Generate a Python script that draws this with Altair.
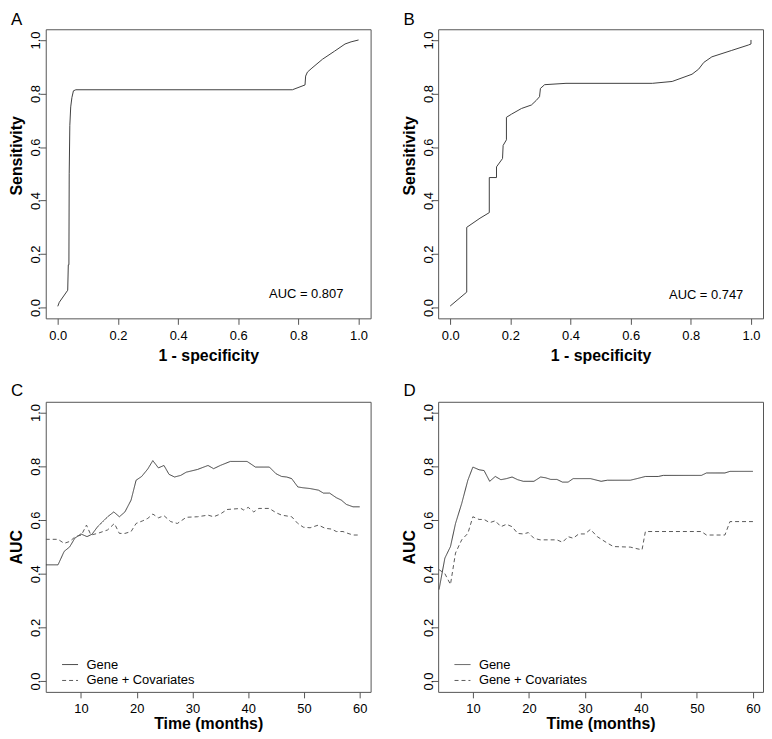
import altair as alt
import pandas as pd

FONT = "Liberation Sans"

# ---------------- data ----------------
roc_a_fpr = [0, 0.005, 0.033, 0.035, 0.037, 0.038, 0.040, 0.043, 0.047, 0.052, 0.060,
             0.780, 0.822, 0.824, 0.830, 0.845, 0.880, 0.920, 0.955, 0.975, 1.0]
roc_a_tpr = [0.005, 0.02, 0.065, 0.16, 0.16, 0.50, 0.68, 0.75, 0.785, 0.81, 0.814,
             0.814, 0.832, 0.865, 0.880, 0.895, 0.928, 0.958, 0.985, 0.993, 1.0]

roc_b_fpr = [0, 0.055, 0.055, 0.099, 0.130, 0.130, 0.154, 0.154, 0.174, 0.176,
             0.187, 0.187, 0.204, 0.237, 0.270, 0.286, 0.297, 0.300, 0.314, 0.385,
             0.672, 0.738, 0.804, 0.826, 0.843, 0.870, 0.936, 0.991, 1.0, 1.0]
roc_b_tpr = [0.006, 0.058, 0.300, 0.334, 0.355, 0.486, 0.486, 0.526, 0.557, 0.606,
             0.627, 0.711, 0.723, 0.744, 0.757, 0.774, 0.788, 0.819, 0.833, 0.838,
             0.838, 0.845, 0.872, 0.891, 0.916, 0.937, 0.961, 0.981, 0.985, 1.0]

c_gene_month = [3.7, 5.9, 7.0, 8.0, 8.9, 10.0, 11.1, 12.0, 13.0, 14.8, 15.9, 16.9, 17.9,
                19.0, 19.9, 20.9, 22.0, 22.9, 23.9, 24.9, 25.8, 26.8, 27.9, 28.9, 30.9,
                32.8, 33.8, 35.0, 36.8, 39.8, 41.3, 43.8, 45.0, 46.0, 46.9, 47.8, 48.9,
                49.8, 51.1, 52.6, 53.5, 54.6, 55.8, 56.7, 57.6, 58.8, 60.0]
c_gene_auc = [0.433, 0.433, 0.483, 0.500, 0.532, 0.548, 0.538, 0.547, 0.575, 0.612, 0.630,
              0.612, 0.630, 0.674, 0.748, 0.762, 0.790, 0.821, 0.794, 0.803, 0.770, 0.760,
              0.766, 0.778, 0.788, 0.803, 0.791, 0.803, 0.818, 0.818, 0.797, 0.797, 0.772,
              0.762, 0.760, 0.754, 0.723, 0.720, 0.717, 0.711, 0.700, 0.700, 0.683, 0.674,
              0.658, 0.649, 0.649]
c_cov_month = [3.7, 5.9, 7.0, 8.0, 9.0, 10.1, 11.0, 11.8, 13.0, 14.8, 16.0, 16.9, 17.9,
               19.0, 19.9, 21.1, 22.0, 22.9, 23.9, 24.9, 26.1, 27.3, 28.9, 30.9, 32.8,
               33.8, 35.0, 36.2, 38.7, 39.2, 40.0, 41.0, 41.9, 43.8, 45.0, 46.0, 47.8,
               48.9, 49.9, 51.1, 52.6, 53.8, 55.0, 55.8, 57.0, 57.9, 58.8, 60.0]
c_cov_auc = [0.528, 0.528, 0.513, 0.520, 0.538, 0.544, 0.581, 0.544, 0.550, 0.563, 0.587,
             0.550, 0.550, 0.557, 0.587, 0.597, 0.606, 0.622, 0.608, 0.616, 0.594, 0.587,
             0.610, 0.612, 0.618, 0.612, 0.622, 0.639, 0.643, 0.637, 0.647, 0.630, 0.643,
             0.643, 0.627, 0.618, 0.612, 0.587, 0.573, 0.571, 0.581, 0.569, 0.566, 0.557,
             0.557, 0.550, 0.544, 0.544]

d_gene_month = [3.96, 5, 6, 6.9, 8, 9.1, 10, 11.1, 12, 13, 14, 15, 16, 17, 18, 19, 20.9,
                22.1, 23, 23.9, 25, 26, 27, 27.9, 31, 32.9, 34, 38.1, 39.3, 40.8, 43.1,
                44, 50.8, 51.7, 55, 55.9, 60]
d_gene_auc = [0.341, 0.458, 0.501, 0.587, 0.661, 0.748, 0.797, 0.787, 0.784, 0.744, 0.762,
              0.750, 0.754, 0.760, 0.750, 0.744, 0.744, 0.760, 0.757, 0.751, 0.751, 0.741,
              0.741, 0.754, 0.754, 0.744, 0.748, 0.748, 0.754, 0.762, 0.762, 0.766, 0.766,
              0.775, 0.775, 0.781, 0.781]
d_cov_month = [3.96, 5, 6, 6.9, 8, 9.1, 10, 11.1, 12, 13, 14, 15, 16, 17, 18, 19, 19.9,
               20.9, 22, 25, 26, 27, 27.9, 28.9, 30, 31, 32.2, 34, 35.1, 38.1, 39.3, 40.2,
               40.8, 50.8, 51.7, 55, 55.9, 60]
d_cov_auc = [0.415, 0.400, 0.360, 0.477, 0.526, 0.550, 0.612, 0.602, 0.602, 0.590, 0.597,
             0.575, 0.584, 0.575, 0.550, 0.548, 0.553, 0.532, 0.526, 0.526, 0.517, 0.538,
             0.532, 0.548, 0.548, 0.565, 0.538, 0.514, 0.501, 0.499, 0.493, 0.489, 0.557,
             0.557, 0.544, 0.544, 0.594, 0.594]

series_names = ["Gene", "Gene + Covariates"]
unit_ticks = [0, 0.2, 0.4, 0.6, 0.8, 1.0]
time_ticks = [10, 20, 30, 40, 50, 60]
auc_labels = ["AUC = 0.807", "AUC = 0.747"]
auc_label_pos = [(0.826, 0.037), (0.851, 0.033)]
panel_letters = ["A", "B", "C", "D"]

# ---------------- styling helpers ----------------
BOX = "#555555"
LINE = "#404040"
W = 327
H_ROC = 291
H_TIME = 292


def x_axis(title, values, fmt, title_y):
    return alt.Axis(title=title, values=values, format=fmt, domain=False, grid=False,
                    tickSize=6, tickColor=BOX, labelFontSize=13, labelFont=FONT,
                    labelColor="black", labelPadding=5, labelFlush=False, labelOverlap=False,
                    titleFont=FONT, titleFontSize=16, titleFontWeight="bold",
                    titleColor="black", titleBaseline="alphabetic", titleY=title_y)


def y_axis(title, title_y):
    return alt.Axis(title=title, values=unit_ticks, format=".1f", domain=False, grid=False,
                    tickSize=6, tickColor=BOX, labelFontSize=13, labelFont=FONT,
                    labelColor="black", labelAngle=270, labelAlign="center",
                    labelBaseline="alphabetic", labelPadding=0, labelFlush=False,
                    labelOverlap=False, titleFont=FONT, titleFontSize=16,
                    titleFontWeight="bold", titleColor="black", titleAngle=270,
                    titleBaseline="alphabetic", titleAlign="center", titleX=-24,
                    titleY=title_y)


def letter_title(letter, offset):
    return alt.TitleParams(letter, anchor="start", frame="group", dx=-35, offset=offset,
                           fontSize=17, fontWeight="normal", font=FONT, color="black")


unit_scale = alt.Scale(domain=[-0.04, 1.04], nice=False, zero=False)


def roc_panel(fpr, tpr, letter, label, pos):
    df = pd.DataFrame({"fpr": fpr, "tpr": tpr, "idx": list(range(len(fpr)))})
    lab = pd.DataFrame({"fpr": [pos[0]], "tpr": [pos[1]], "label": [label]})
    x = alt.X("fpr:Q", scale=unit_scale, axis=x_axis("1 - specificity", unit_ticks, ".1f", 42))
    y = alt.Y("tpr:Q", scale=unit_scale, axis=y_axis("Sensitivity", 0.436 * H_ROC))
    line = alt.Chart(df).mark_line(color=LINE, strokeWidth=1, clip=True).encode(
        x=x, y=y, order="idx:Q")
    text = alt.Chart(lab).mark_text(font=FONT, fontSize=13, color="black",
                                    align="center", baseline="alphabetic").encode(
        x=x, y=y, text="label:N")
    return alt.layer(line, text).properties(width=W, height=H_ROC,
                                            title=letter_title(letter, 0))


def time_panel(gm, ga, cm, ca, letter, xdomain):
    rows = []
    for i, (m, a) in enumerate(zip(gm, ga)):
        rows.append({"month": m, "auc": a, "series": series_names[0], "idx": i})
    for i, (m, a) in enumerate(zip(cm, ca)):
        rows.append({"month": m, "auc": a, "series": series_names[1], "idx": i})
    df = pd.DataFrame(rows)
    legend = alt.Legend(title=None, orient="none", legendX=16, legendY=H_TIME - 36,
                        symbolType="stroke", symbolSize=256, symbolStrokeWidth=1,
                        labelFont=FONT, labelFontSize=13, labelColor="black",
                        labelOffset=8, rowPadding=-6, padding=0)
    chart = alt.Chart(df).mark_line(strokeWidth=1, clip=True).encode(
        x=alt.X("month:Q", scale=alt.Scale(domain=xdomain, nice=False, zero=False),
                axis=x_axis("Time (months)", time_ticks, "d", 37)),
        y=alt.Y("auc:Q", scale=unit_scale, axis=y_axis("AUC", H_TIME / 2)),
        color=alt.Color("series:N", scale=alt.Scale(domain=series_names,
                                                    range=[LINE, "#5a5a5a"]),
                        legend=legend),
        strokeDash=alt.StrokeDash("series:N",
                                  scale=alt.Scale(domain=series_names,
                                                  range=[[1, 0], [4, 3]]),
                                  legend=legend),
        order="idx:Q",
    ).properties(width=W, height=H_TIME, title=letter_title(letter, 2))
    return chart


pa = roc_panel(roc_a_fpr, roc_a_tpr, panel_letters[0], auc_labels[0], auc_label_pos[0])
pb = roc_panel(roc_b_fpr, roc_b_tpr, panel_letters[1], auc_labels[1], auc_label_pos[1])
pc = time_panel(c_gene_month, c_gene_auc, c_cov_month, c_cov_auc, panel_letters[2],
                [3.7, 61.95])
pd_ = time_panel(d_gene_month, d_gene_auc, d_cov_month, d_cov_auc, panel_letters[3],
                 [3.8, 61.8])

chart = alt.concat(pa, pb, pc, pd_, columns=2, bounds="flush",
                   spacing={"row": 84, "column": 68}).resolve_scale(
    color="independent", strokeDash="independent").resolve_legend(
    color="independent", strokeDash="independent").properties(
    padding={"left": 0, "top": 0, "right": 0, "bottom": 0},
    background="white",
).configure_view(stroke=BOX, strokeWidth=1)

chart.save("out.html", embed_options={"renderer": "svg", "actions": False})
